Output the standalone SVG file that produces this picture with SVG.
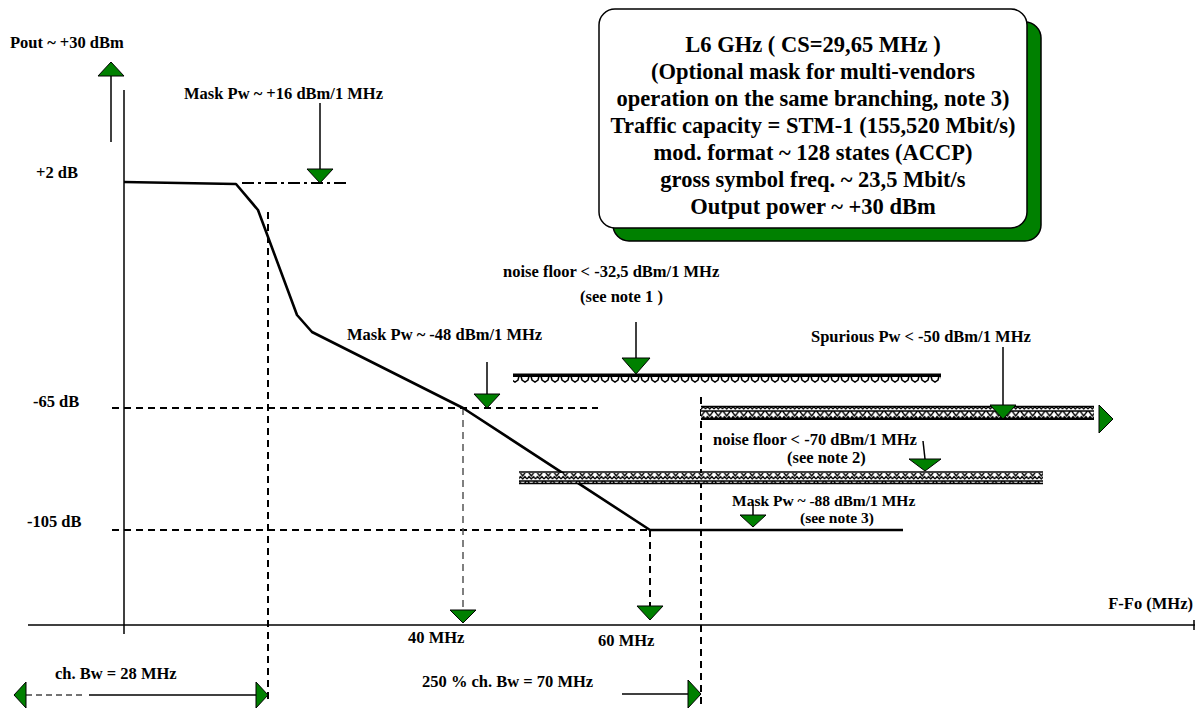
<svg xmlns="http://www.w3.org/2000/svg" width="1195" height="708" viewBox="0 0 1195 708">
<defs>
<style>
.t{font-family:"Liberation Serif","Times New Roman",serif;font-weight:bold;font-size:16.5px;fill:#000}
.s{font-size:15.5px}
.bt{font-family:"Liberation Serif","Times New Roman",serif;font-weight:bold;font-size:22.5px;fill:#000;text-anchor:middle}
.ln{stroke:#000;stroke-width:1.5;fill:none}
.dash{stroke:#000;stroke-width:2;fill:none;stroke-dasharray:7 5}
.gdash{stroke:#555;stroke-width:1.5;fill:none;stroke-dasharray:7 5}
.tri{fill:#008000;stroke:#000;stroke-width:1}
.curve{stroke:#000;stroke-width:2.6;fill:none;stroke-linejoin:round}
</style>
<pattern id="hA" width="10" height="8" patternUnits="userSpaceOnUse">
<rect width="10" height="8" fill="#fff"/>
<path d="M1,0 L2,4 L5,6 L8,4 L9,0" fill="#fff" stroke="#000" stroke-width="1.5"/>
</pattern>
<pattern id="hB" width="8.5" height="10" patternUnits="userSpaceOnUse">
<rect width="8.5" height="10" fill="#fff"/>
<path d="M0.5,1 L8,1 L4.25,6 Z" fill="#fff" stroke="#000" stroke-width="1.3"/>
<path d="M0,9 L2,6.5 L4.25,9 L6.5,6.5 L8.5,9" fill="none" stroke="#000" stroke-width="1.3"/>
</pattern>
</defs>
<rect width="1195" height="708" fill="#fff"/>

<g id="info-box">
<rect x="613" y="22" width="428" height="219" rx="16" fill="#008000" stroke="#000" stroke-width="1.5"/>
<rect x="599" y="9" width="428" height="219" rx="16" fill="#fff" stroke="#000" stroke-width="1.5"/>
<text class="bt" x="813" y="52">L6 GHz ( CS=29,65 MHz )</text>
<text class="bt" x="813" y="79">(Optional mask for multi-vendors</text>
<text class="bt" x="813" y="106">operation on the same branching, note 3)</text>
<text class="bt" x="813" y="133">Traffic capacity = STM-1 (155,520 Mbit/s)</text>
<text class="bt" x="813" y="160">mod. format ~ 128 states (ACCP)</text>
<text class="bt" x="813" y="187">gross symbol freq. ~ 23,5 Mbit/s</text>
<text class="bt" x="813" y="214">Output power ~ +30 dBm</text>
</g>

<g id="axes">
<line class="ln" x1="124" y1="90" x2="124" y2="634"/>
<line class="ln" x1="28" y1="625" x2="1195" y2="625"/>
<line class="ln" x1="1194" y1="620" x2="1194" y2="630"/>
<line class="ln" x1="111" y1="142" x2="111" y2="76"/>
<polygon class="tri" points="98,76 124,76 111,62"/>
<text class="t" x="10" y="48">Pout ~ +30 dBm</text>
<text class="t" x="1193" y="609" text-anchor="end">F-Fo (MHz)</text>
</g>

<g id="level-labels">
<text class="t" x="36" y="178">+2 dB</text>
<text class="t" x="33" y="407">-65 dB</text>
<text class="t" x="27" y="527">-105 dB</text>
</g>

<g id="connectors">
<line class="dash" x1="268" y1="212" x2="268" y2="700"/>
<line class="dash" x1="112" y1="408" x2="598" y2="408"/>
<line class="dash" x1="112" y1="530" x2="650" y2="530"/>
<line class="gdash" x1="463" y1="408" x2="463" y2="610"/>
<line class="dash" x1="650" y1="530" x2="650" y2="606"/>
<line class="dash" x1="701" y1="397" x2="701" y2="708" stroke-width="1.5" stroke-dasharray="6 4"/>
<line x1="242" y1="183" x2="347" y2="183" stroke="#000" stroke-width="1.8" stroke-dasharray="12 4 3 4"/>
</g>

<g id="mask-curve">
<polyline class="curve" points="124,182 236,184 258,210 297,315 312,332 463,408 650,530 903,530"/>
</g>

<g id="mask-plus16">
<text class="t" x="184" y="99">Mask Pw ~ +16 dBm/1 MHz</text>
<line class="ln" x1="320" y1="103" x2="320" y2="169"/>
<polygon class="tri" points="307,169 333,169 320,183"/>
</g>

<g id="mask-minus48">
<text class="t" x="347" y="340">Mask Pw ~ -48 dBm/1 MHz</text>
<line class="ln" x1="487" y1="362" x2="487" y2="394"/>
<polygon class="tri" points="474,394 500,394 487,408"/>
</g>

<g id="noise-floor-1">
<text class="t" x="503" y="277">noise floor &lt; -32,5 dBm/1 MHz</text>
<text class="t" x="580" y="302">(see note 1 )</text>
<rect x="513" y="373.5" width="428" height="3.5" fill="#000"/>
<rect x="513" y="377" width="428" height="7" fill="url(#hA)"/>
<line class="ln" x1="636" y1="322" x2="636" y2="358"/>
<polygon class="tri" points="622,358 650,358 636,374"/>
</g>

<g id="spurious">
<text class="t" x="811" y="342">Spurious Pw &lt; -50 dBm/1 MHz</text>
<rect x="701" y="407" width="393" height="11" fill="url(#hB)"/>
<line x1="701" y1="406.5" x2="1094" y2="406.5" stroke="#000" stroke-width="1.5"/>
<line x1="701" y1="419" x2="1094" y2="419" stroke="#000" stroke-width="2"/>
<line class="ln" x1="1003" y1="347" x2="1003" y2="405"/>
<polygon class="tri" points="990,405 1016,405 1003,419"/>
<polygon class="tri" points="1099,405 1099,433 1113,419"/>
</g>

<g id="noise-floor-2">
<text class="t" x="713" y="445">noise floor &lt; -70 dBm/1 MHz</text>
<text class="t" x="787" y="463">(see note 2)</text>
<rect x="519" y="473" width="524" height="10" fill="url(#hB)"/>
<line x1="519" y1="472" x2="1043" y2="472" stroke="#000" stroke-width="1.5"/>
<line x1="519" y1="483.5" x2="1043" y2="483.5" stroke="#000" stroke-width="1.5"/>
<line class="ln" x1="923" y1="441" x2="925" y2="459"/>
<polygon class="tri" points="909,459 941,459 925,471"/>
</g>

<g id="mask-minus88">
<text class="t s" x="732" y="506">Mask Pw ~ -88 dBm/1 MHz</text>
<text class="t s" x="800" y="523">(see note 3)</text>
<line class="ln" x1="753" y1="504" x2="753" y2="515"/>
<polygon class="tri" points="740,515 766,515 753,527"/>
</g>

<g id="freq-40">
<polygon class="tri" points="450,610 476,610 463,623"/>
<text class="t" x="408" y="643">40 MHz</text>
</g>

<g id="freq-60">
<polygon class="tri" points="637,606 663,606 650,620"/>
<text class="t" x="598" y="646">60 MHz</text>
</g>

<g id="ch-bw">
<text class="t" x="55" y="679">ch. Bw = 28 MHz</text>
<line x1="26" y1="695" x2="86" y2="695" stroke="#444" stroke-width="1.5" stroke-dasharray="6 4"/>
<line class="ln" x1="89" y1="695" x2="256" y2="695"/>
<polygon class="tri" points="26,682 26,708 14,695"/>
<polygon class="tri" points="256,682 256,708 268,695"/>
</g>

<g id="bw-250">
<text class="t" x="422" y="687">250 % ch. Bw = 70 MHz</text>
<line class="ln" x1="622" y1="694" x2="688" y2="694"/>
<polygon class="tri" points="688,680 688,708 701,694"/>
</g>
</svg>
